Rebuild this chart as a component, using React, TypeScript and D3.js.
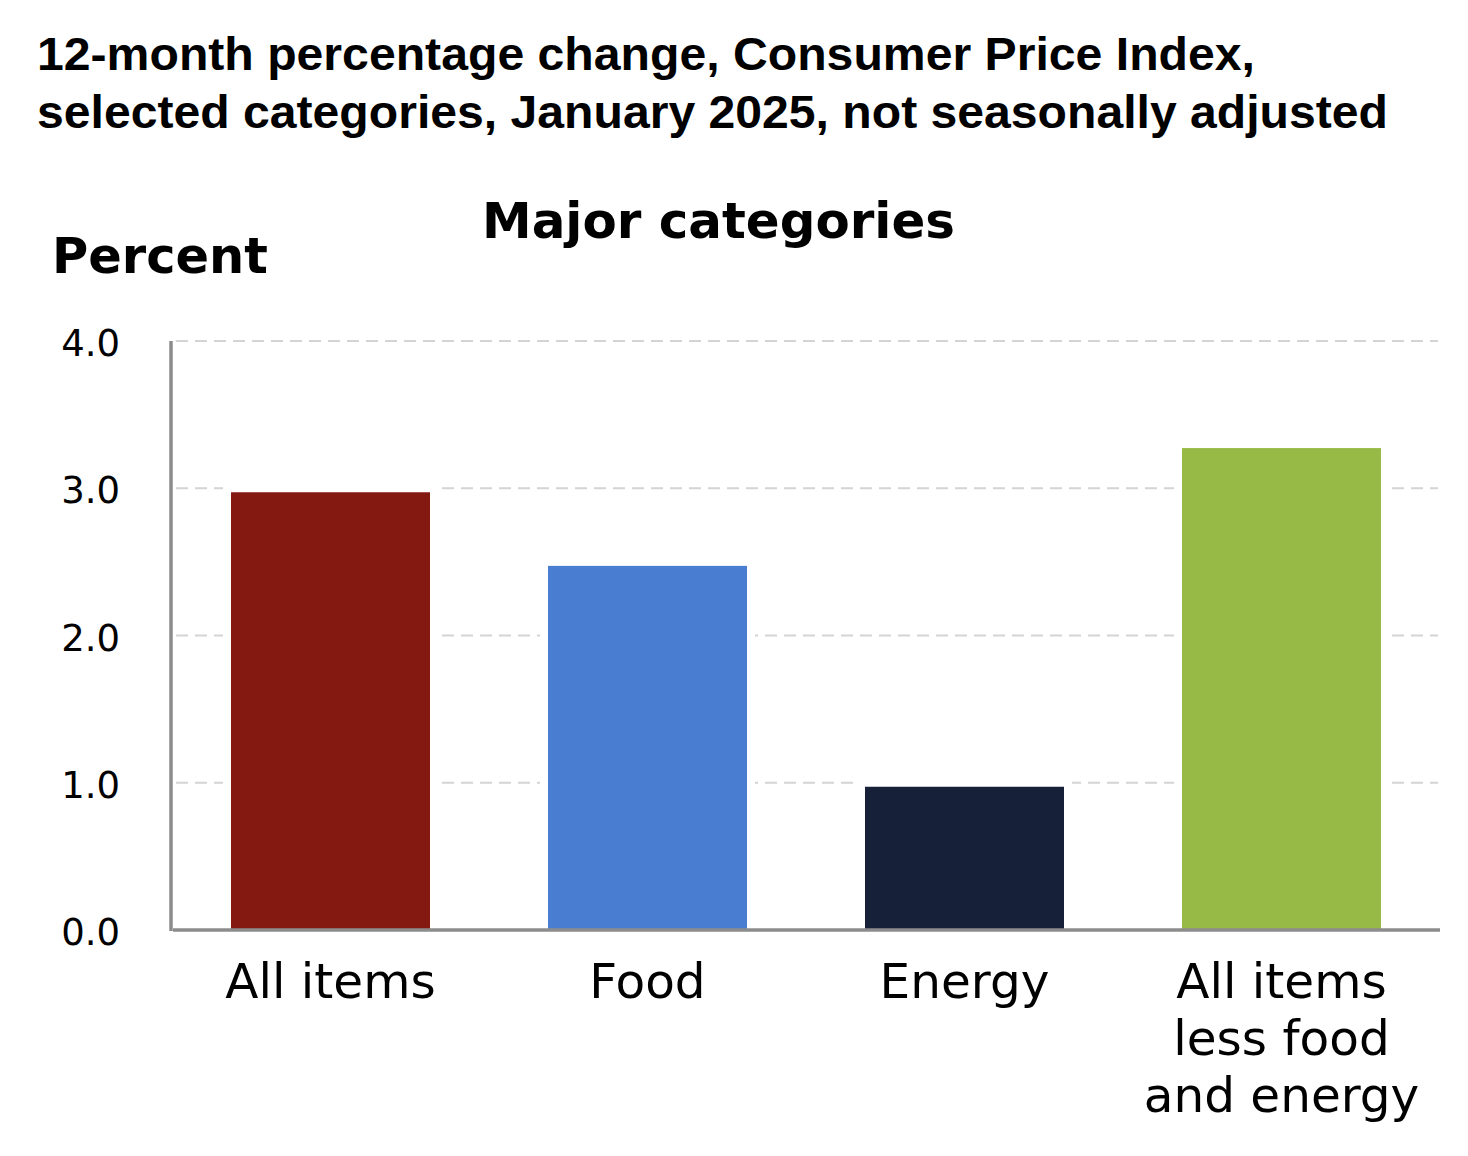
import React from "react";
import * as d3 from "d3";

const categories: string[][] = [
  ["All items"],
  ["Food"],
  ["Energy"],
  ["All items", "less food", "and energy"],
];
const values: number[] = [3.0, 2.5, 1.0, 3.3];
const barColors: string[] = ["#841912", "#487DD1", "#162139", "#96BA45"];
const yTicks: number[] = [0, 1, 2, 3, 4];
const titleLines: string[] = [
  "12-month percentage change, Consumer Price Index,",
  "selected categories, January 2025, not seasonally adjusted",
];
const subtitle = "Major categories";
const yLabel = "Percent";

const W = 1468;
const H = 1156;
const left = 172;
const right = 1440;
const top = 341;
const bottom = 930;

export default function App() {
  const ids = categories.map((_, i) => String(i));
  const x = d3.scaleBand<string>().domain(ids).range([left, right]).paddingInner(0.347).paddingOuter(0.1735);
  const y = d3.scaleLinear().domain([0, 4]).range([bottom, top]);
  const sans = "'Liberation Sans', Arial, Helvetica, sans-serif";
  const verd = "'DejaVu Sans', Verdana, sans-serif";
  return (
    <svg width={W} height={H} style={{ position: "absolute", left: 0, top: 0, background: "#fff" }}>
      <rect x={0} y={0} width={W} height={H} fill="#fff" />
      <text x={37} y={70} fontFamily={sans} fontWeight="bold" fontSize={46} textLength={1218} lengthAdjust="spacingAndGlyphs">{titleLines[0]}</text>
      <text x={37} y={128} fontFamily={sans} fontWeight="bold" fontSize={46} textLength={1351} lengthAdjust="spacingAndGlyphs">{titleLines[1]}</text>
      <text x={482} y={238} fontFamily={verd} fontWeight="bold" fontSize={49} textLength={473} lengthAdjust="spacingAndGlyphs">{subtitle}</text>
      <text x={52} y={273} fontFamily={verd} fontWeight="bold" fontSize={50} textLength={216} lengthAdjust="spacingAndGlyphs">{yLabel}</text>
      {yTicks.filter((t) => t > 0).map((t) => (
        <line key={"g" + t} x1={left + 4} x2={1438} y1={y(t)} y2={y(t)} stroke="#d4d4d4" strokeWidth={2} strokeDasharray="12 7" />
      ))}
      {yTicks.map((t) => (
        <text key={"t" + t} x={120} y={y(t) + 15} textAnchor="end" fontFamily={verd} fontSize={37}>{d3.format(".1f")(t)}</text>
      ))}
      {values.map((v, i) => (
        <rect key={"b" + i} x={x(ids[i])} y={y(v)} width={x.bandwidth()} height={bottom - y(v) + 4} fill={barColors[i]} stroke="#fff" strokeWidth={8} />
      ))}
      <rect x={160} y={bottom + 2} width={1300} height={12} fill="#fff" />
      <line x1={171} x2={171} y1={top} y2={bottom + 1} stroke="#8c8c8c" strokeWidth={3.5} />
      <line x1={173} x2={right} y1={bottom} y2={bottom} stroke="#8c8c8c" strokeWidth={3.5} />
      {categories.map((lines, i) => (
        <text key={"c" + i} textAnchor="middle" fontFamily={verd} fontSize={48.5}>
          {lines.map((l, j) => (
            <tspan key={j} x={(x(ids[i]) as number) + x.bandwidth() / 2} y={998 + j * 57}>{l}</tspan>
          ))}
        </text>
      ))}
    </svg>
  );
}
